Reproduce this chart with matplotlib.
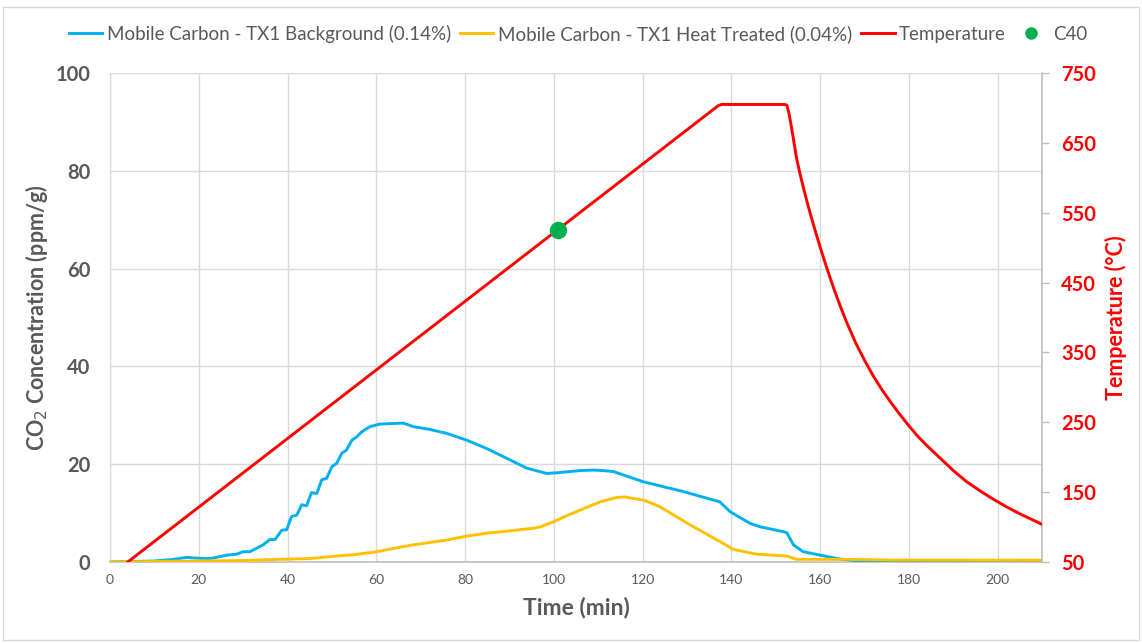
import matplotlib
matplotlib.use("Agg")
import matplotlib.pyplot as plt
from matplotlib.lines import Line2D
from matplotlib.patches import Rectangle

plt.rcParams['font.family'] = ['Lato', 'DejaVu Sans']

# --- data -----------------------------------------------------------------
bg_time = [0, 5, 9.8, 14, 17.3, 20.3, 22.5, 24, 26.3, 28.5, 30, 31.5, 33, 34.5,
           36, 37.2, 38.7, 39.8, 40.9, 42.1, 43.2, 44.3, 45.4, 46.6, 47.7, 48.8,
           50, 51.1, 52.2, 53.3, 54.5, 55.6, 56.7, 58.6, 60.8, 63, 66.1, 68.3,
           72.1, 75.9, 80.4, 84.9, 89.4, 93.9, 98.4, 101.4, 105.9, 108.9, 111,
           113.4, 120.2, 129.2, 137.4, 139.7, 144.2, 146.5, 151.7, 152.5, 154,
           156.2, 160, 164.5, 169, 175, 190, 210]
bg_co2 = [0, 0.1, 0.2, 0.5, 0.95, 0.75, 0.7, 0.95, 1.4, 1.6, 2.1, 2.1, 2.8, 3.5,
          4.6, 4.6, 6.5, 6.6, 9.3, 9.6, 11.7, 11.5, 14.2, 14.0, 16.8, 17.1,
          19.5, 20.2, 22.2, 22.9, 24.9, 25.6, 26.6, 27.7, 28.2, 28.3, 28.4, 27.7,
          27.1, 26.3, 24.9, 23.2, 21.2, 19.2, 18.1, 18.3, 18.7, 18.8, 18.7,
          18.5, 16.4, 14.4, 12.3, 10.3, 7.9, 7.2, 6.2, 6.0, 3.5,
          2.1, 1.4, 0.6, 0.2, 0.1, 0.05, 0.05]

ht_time = [0, 10, 20, 30, 38.3, 45, 49.6, 55, 60.1, 64, 68.3, 75.9, 80.4, 85,
           89.4, 95.4, 97, 99.9, 102, 105.9, 110.4, 114.2, 116, 117.9, 120.5,
           123.9, 130.7, 137.4, 140.4, 145.7, 152.5, 154.7, 165, 176, 210]
ht_co2 = [0, 0.1, 0.2, 0.3, 0.55, 0.7, 1.1, 1.5, 2.1, 2.8, 3.5, 4.5, 5.3, 5.9,
          6.3, 6.9, 7.2, 8.2, 9.1, 10.6, 12.3, 13.2, 13.3, 13.0, 12.6,
          11.3, 7.6, 4.2, 2.6, 1.6, 1.2, 0.55, 0.55, 0.4, 0.35]

temp_time = [4, 137, 137.8, 152, 152.5, 153, 153.5, 154, 154.7, 155.5, 156.2,
             157, 158, 159, 160, 161.5, 163, 164.5, 166, 168, 170, 172, 174,
             176, 178, 180, 182, 184, 186, 188, 190, 193, 196, 199, 202, 205,
             208, 210]
temp_c = [50, 703, 705, 705, 704, 692, 674, 655, 628, 605, 587,
          567, 544, 522, 501, 471, 443, 417, 393, 364, 339, 316, 296,
          278, 261, 245, 230, 217, 205, 193, 181, 165, 152, 140, 129, 119,
          110, 104]

c40_time = [101]
c40_temp = [525]

series_labels = ["Mobile Carbon - TX1 Background (0.14%)",
                 "Mobile Carbon - TX1 Heat Treated (0.04%)",
                 "Temperature", "C40"]
x_ticks = list(range(0, 201, 20))
y_ticks = list(range(0, 101, 20))
t_ticks = list(range(50, 751, 100))

# --- styling ----------------------------------------------------------------
BLUE = "#00B0F0"
GOLD = "#FFC000"
RED = "#FF0000"
GREEN = "#00B050"
GRAY_TXT = "#595959"
GRID = "#D9D9D9"
AXIS = "#BFBFBF"

W, H = 1142, 643
fig = plt.figure(figsize=(W / 100, H / 100), dpi=100)
left, right, top, bottom = 110, 1042, 73, 562
ax = fig.add_axes([left / W, 1 - bottom / H, (right - left) / W, (bottom - top) / H])
ax2 = ax.twinx()

# outer chart border
fig.add_artist(Rectangle((3 / W, 3 / H), (W - 6) / W, (H - 10) / H,
                         transform=fig.transFigure, fill=False,
                         edgecolor=GRID, linewidth=1))

l1, = ax.plot(bg_time, bg_co2, color=BLUE, lw=2.1, label=series_labels[0], zorder=3)
l2, = ax.plot(ht_time, ht_co2, color=GOLD, lw=2.1, label=series_labels[1], zorder=4)
l3, = ax2.plot(temp_time, temp_c, color=RED, lw=2.1, label=series_labels[2], zorder=3)
ax2.plot(c40_time, c40_temp, 'o', color=GREEN, markersize=11.5, zorder=5)

ax.set_xlim(0, 210)
ax.set_ylim(0, 100)
ax2.set_ylim(50, 750)
ax.set_xticks(x_ticks)
ax.set_yticks(y_ticks)
ax2.set_yticks(t_ticks)

ax.grid(True, color=GRID, lw=1)
ax.set_axisbelow(True)

for s in ("top", "right"):
    ax.spines[s].set_visible(False)
ax.spines["left"].set_color(GRID)
ax.spines["bottom"].set_color(AXIS)
ax.spines["bottom"].set_linewidth(1.2)
for s in ("top", "left", "bottom"):
    ax2.spines[s].set_visible(False)
ax2.spines["right"].set_color(AXIS)
ax2.spines["right"].set_linewidth(1.2)

ax.tick_params(axis="x", length=0, pad=9, labelsize=10, labelcolor=GRAY_TXT)
ax.tick_params(axis="y", length=0, pad=14, labelsize=14.5, labelcolor=GRAY_TXT)
for lab in ax.get_yticklabels():
    lab.set_fontweight("bold")
ax2.tick_params(axis="y", direction="out", length=5, width=1, color=AXIS,
                pad=9, labelsize=14.5, labelcolor=RED)
for lab in ax2.get_yticklabels():
    lab.set_fontweight("bold")

ax.set_xlabel("Time (min)", fontsize=16.5, fontweight="bold", color=GRAY_TXT, labelpad=7)
ax.set_ylabel("CO$_2$ Concentration (ppm/g)", fontsize=15.5, fontweight="bold",
              color=GRAY_TXT, labelpad=4)
ax2.set_ylabel("Temperature (°C)", fontsize=15.5, fontweight="bold", color=RED, labelpad=6)

handles = [l1, l2, l3,
           Line2D([], [], ls="none", marker="o", color=GREEN, markersize=8)]
leg = fig.legend(handles, series_labels, loc="center", bbox_to_anchor=(0.506, 1 - 34 / H),
                 ncol=4, frameon=False, fontsize=13.5, handlelength=1.8,
                 handletextpad=0.25, columnspacing=0.45)
for t in leg.get_texts():
    t.set_color(GRAY_TXT)

fig.savefig("out.png", dpi=100)
